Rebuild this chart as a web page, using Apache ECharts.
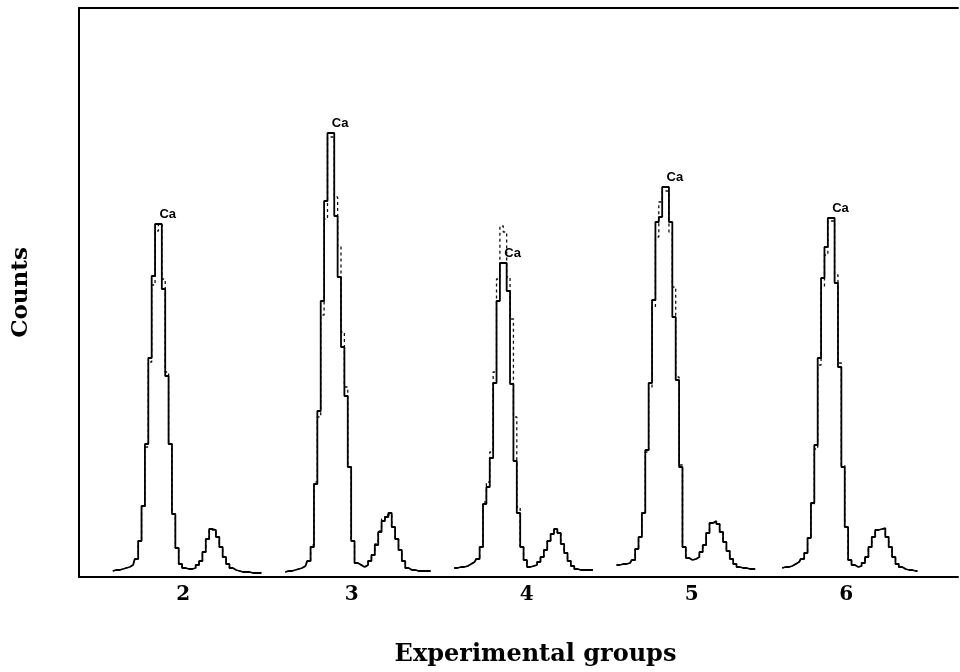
<!DOCTYPE html>
<html>
<head>
<meta charset="utf-8">
<script src="https://cdn.jsdelivr.net/npm/echarts@6/dist/echarts.min.js"></script>
<style>
html,body{margin:0;padding:0;background:#fff;}
#chart{width:960px;height:672px;}
</style>
</head>
<body>
<div id="chart"></div>
<script>
// ---- data (x = detector channel, y = counts) ----
const groupNames = ['2', '3', '4', '5', '6'];
const tickChannels = [30.85, 80.66, 132.4, 181.2, 226.9];
const startChannels = [10, 61, 111, 159, 208];
const peakLabel = 'Ca';

const g2Solid = [6,7,7,8,9,10,12,18,36,71,133,219,301,353,353,288,201,133,63,29,13,9,8,8,9,12,16,25,38,48,47,40,30,20,13,9,7,6,5,5,5,4,4,4,4];
const g2Dashed = [6,7,7,8,9,10,12,18,36,70,130,215,292,346,353,298,205,133,63,29,13,9,8,8,9,12,16,25,38,47,47,40,30,20,13,9,7,6,5,5,5,4,4,4,4];

const g3Solid = [5,6,6,7,8,9,11,16,30,93,166,276,376,444,444,361,300,230,181,110,36,14,12,10,12,16,22,32,45,56,60,64,50,38,27,16,9,7,7,6,6,6,6,6];
const g3Dashed = [5,6,6,7,8,9,11,16,32,95,160,262,358,440,440,380,330,245,190,110,36,14,12,10,12,16,22,33,46,58,62,63,50,38,27,16,9,7,7,6,6,6,6,6];

const g4Solid = [9,9,10,10,11,13,15,18,30,73,90,119,194,276,314,314,286,193,116,64,30,17,10,11,12,15,20,27,36,43,48,44,33,24,16,11,8,7,7,7,7,7];
const g4Dashed = [9,9,10,10,11,13,15,18,30,75,95,125,205,298,351,345,300,258,160,70,30,17,10,11,12,15,20,27,36,43,47,44,33,24,16,11,8,7,7,7,7,7];

const g5Solid = [12,12,13,13,14,17,28,40,64,127,194,277,355,360,390,390,355,260,197,110,30,19,17,18,20,25,32,44,54,56,53,45,35,26,18,13,10,9,9,8,8,8];
const g5Dashed = [12,12,13,13,14,17,28,40,64,125,190,270,340,375,386,386,345,290,200,112,30,19,17,18,20,25,32,44,54,55,53,45,35,26,18,13,10,9,9,8,8,8];

const g6Solid = [9,10,10,11,13,15,18,24,39,74,132,219,299,330,359,359,294,210,110,50,17,12,10,11,14,20,30,40,47,48,49,40,30,20,13,10,8,7,7,6,6];
const g6Dashed = [9,10,10,11,13,15,18,24,39,72,128,212,290,322,356,356,302,214,112,50,17,12,10,11,14,20,30,40,47,48,48,40,30,20,13,10,8,7,7,6,6];

const solidGroups = [g2Solid, g3Solid, g4Solid, g5Solid, g6Solid];
const dashedGroups = [g2Dashed, g3Dashed, g4Dashed, g5Dashed, g6Dashed];

// ---- build ----
function toPoints(arr, start) {
  return arr.map((v, i) => [start + i, v]);
}

const series = [];
dashedGroups.forEach((arr, gi) => {
  series.push({
    type: 'line',
    step: 'middle',
    showSymbol: false,
    silent: true,
    data: toPoints(arr, startChannels[gi]),
    lineStyle: { color: '#111', width: 1.3, type: [3, 3] },
    z: 2
  });
});
solidGroups.forEach((arr, gi) => {
  series.push({
    type: 'line',
    step: 'middle',
    showSymbol: false,
    silent: true,
    data: toPoints(arr, startChannels[gi]),
    lineStyle: { color: '#000', width: 1.8 },
    z: 3,
    markPoint: {
      symbol: 'circle',
      symbolSize: 1,
      itemStyle: { color: 'rgba(0,0,0,0)' },
      data: [{ type: 'max' }],
      label: {
        show: true,
        formatter: peakLabel,
        position: 'top',
        distance: 3,
        offset: [11, 0],
        color: '#000',
        fontFamily: 'Liberation Sans, Arial, sans-serif',
        fontWeight: 'bold',
        fontSize: 13
      }
    }
  });
});

const chart = echarts.init(document.getElementById('chart'), null, { renderer: 'canvas' });
chart.setOption({
  backgroundColor: '#fff',
  animation: false,
  grid: { left: 79, right: 2, top: 8, bottom: 95 },
  xAxis: [{
    type: 'value',
    min: 0,
    max: 260,
    position: 'bottom',
    name: 'Experimental groups',
    nameLocation: 'middle',
    nameGap: 66,
    nameTextStyle: {
      fontFamily: 'DejaVu Serif, serif',
      fontWeight: 'bold',
      fontSize: 24,
      color: '#000',
      padding: [0, 0, 0, 34]
    },
    axisLine: { show: true, lineStyle: { color: '#000', width: 2 } },
    axisTick: { show: false },
    splitLine: { show: false },
    axisLabel: {
      customValues: tickChannels,
      formatter: function (v) {
        let best = 0;
        tickChannels.forEach((t, i) => { if (Math.abs(t - v) < Math.abs(tickChannels[best] - v)) best = i; });
        return groupNames[best];
      },
      margin: 8,
      fontFamily: 'DejaVu Serif, serif',
      fontWeight: 'bold',
      fontSize: 20,
      color: '#000'
    }
  }, {
    type: 'value',
    min: 0,
    max: 260,
    position: 'top',
    axisLine: { show: true, lineStyle: { color: '#000', width: 2 } },
    axisTick: { show: false },
    axisLabel: { show: false },
    splitLine: { show: false }
  }],
  yAxis: {
    type: 'value',
    min: 0,
    max: 569,
    name: 'Counts',
    nameLocation: 'middle',
    nameRotate: 90,
    nameGap: 46,
    nameTextStyle: {
      fontFamily: 'DejaVu Serif, serif',
      fontWeight: 'bold',
      fontSize: 23,
      color: '#000'
    },
    axisLine: { show: true, lineStyle: { color: '#000', width: 2 } },
    axisTick: { show: false },
    axisLabel: { show: false },
    splitLine: { show: false }
  },
  series: series
});
</script>
</body>
</html>
